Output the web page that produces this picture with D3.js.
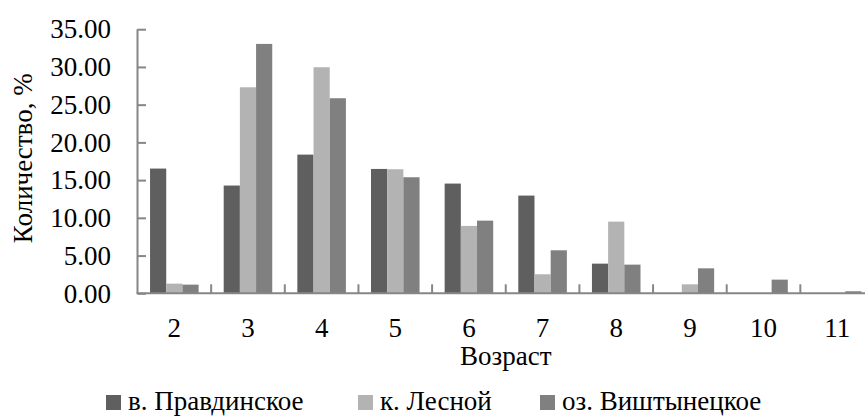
<!DOCTYPE html>
<html>
<head>
<meta charset="utf-8">
<script src="https://cdn.jsdelivr.net/npm/d3@7/dist/d3.min.js"></script>
</head>
<body style="margin:0">
<svg id="chart" width="865" height="417"></svg>
<script>
// Age groups on the x axis
const categories = ["2", "3", "4", "5", "6", "7", "8", "9", "10", "11"];

// Share of fish in each age group, %
const pravdinskoe = [16.53, 14.28, 18.38, 16.48, 14.54, 12.95, 3.93, 0, 0, 0];
const lesnoy      = [1.28, 27.30, 29.96, 16.44, 8.93, 2.52, 9.50, 1.19, 0, 0];
const vishtynets  = [1.15, 33.05, 25.85, 15.38, 9.63, 5.70, 3.80, 3.31, 1.81, 0.27];

const seriesNames = ["в. Правдинское", "к. Лесной", "оз. Виштынецкое"];
const seriesValues = [pravdinskoe, lesnoy, vishtynets];
const seriesColors = ["#5f5f5f", "#b3b3b3", "#808080"];

const yTicks = [0, 5, 10, 15, 20, 25, 30, 35];

const svg = d3.select("#chart");
const plotLeft = 137.5, plotRight = 874, plotTop = 29.2, plotBottom = 293.3;
const axisColor = "#868686";

// every label uses the same serif face
function label(sel) {
  return sel.style("font", "27px 'Times New Roman', 'Liberation Serif', serif").attr("fill", "#000");
}

const x0 = d3.scaleBand().domain(categories).range([plotLeft, plotRight]).padding(0);
const x1 = d3.scaleBand().domain(d3.range(seriesNames.length))
  .range([0, x0.bandwidth()]).paddingInner(0).paddingOuter(0.775);
const y = d3.scaleLinear().domain([0, 35]).range([plotBottom, plotTop]);

// bars
const rows = categories.map((c, i) => ({ c, vals: seriesValues.map(s => s[i]) }));
svg.append("g").selectAll("g").data(rows).join("g")
  .attr("transform", d => `translate(${x0(d.c)},0)`)
  .selectAll("rect").data(d => d.vals.map((v, k) => ({ v, k })))
  .join("rect")
  .attr("x", d => x1(d.k))
  .attr("width", x1.bandwidth())
  .attr("y", d => y(d.v))
  .attr("height", d => y(0) - y(d.v))
  .attr("fill", d => seriesColors[d.k]);

// y axis: ticks point inward
const yAxis = svg.append("g").attr("transform", `translate(${plotLeft},0)`)
  .call(d3.axisRight(y).tickValues(yTicks).tickSize(8.5).tickFormat(""));
yAxis.select(".domain").attr("stroke", axisColor).attr("stroke-width", 2)
  .attr("d", `M0,${plotBottom}V${plotTop}`);
yAxis.selectAll(".tick line").attr("stroke", axisColor).attr("stroke-width", 2);

svg.append("g").selectAll("text").data(yTicks).join("text")
  .attr("x", 111).attr("y", d => y(d) + 9.2)
  .attr("text-anchor", "end")
  .call(label)
  .text(d => d3.format(".2f")(d));

// x axis with category boundary ticks pointing up
const xAxis = svg.append("g").attr("transform", `translate(0,${plotBottom})`);
xAxis.append("line").attr("x1", plotLeft - 1).attr("x2", plotRight)
  .attr("stroke", axisColor).attr("stroke-width", 2);
xAxis.selectAll("line.tk").data(categories).join("line").attr("class", "tk")
  .attr("x1", d => x0(d) + x0.bandwidth()).attr("x2", d => x0(d) + x0.bandwidth())
  .attr("y1", 0).attr("y2", -9)
  .attr("stroke", axisColor).attr("stroke-width", 2);

svg.append("g").selectAll("text").data(categories).join("text")
  .attr("x", d => x0(d) + x0.bandwidth() / 2).attr("y", 337)
  .attr("text-anchor", "middle")
  .call(label)
  .text(d => d);

// axis titles
svg.append("text").attr("x", (plotLeft + plotRight) / 2).attr("y", 365)
  .attr("text-anchor", "middle").call(label).text("Возраст");
svg.append("text")
  .attr("transform", `translate(32,${(plotTop + plotBottom) / 2 - 3}) rotate(-90)`)
  .attr("text-anchor", "middle").call(label).text("Количество, %");

// legend
const legendX = [106, 358, 540];
const lg = svg.append("g").selectAll("g").data(seriesNames).join("g")
  .attr("transform", (d, i) => `translate(${legendX[i]},0)`);
lg.append("rect").attr("x", 0).attr("y", 395).attr("width", 15).attr("height", 15)
  .attr("fill", (d, i) => seriesColors[i]);
lg.append("text").attr("x", 22).attr("y", 410).call(label).text(d => d);
</script>
</body>
</html>
